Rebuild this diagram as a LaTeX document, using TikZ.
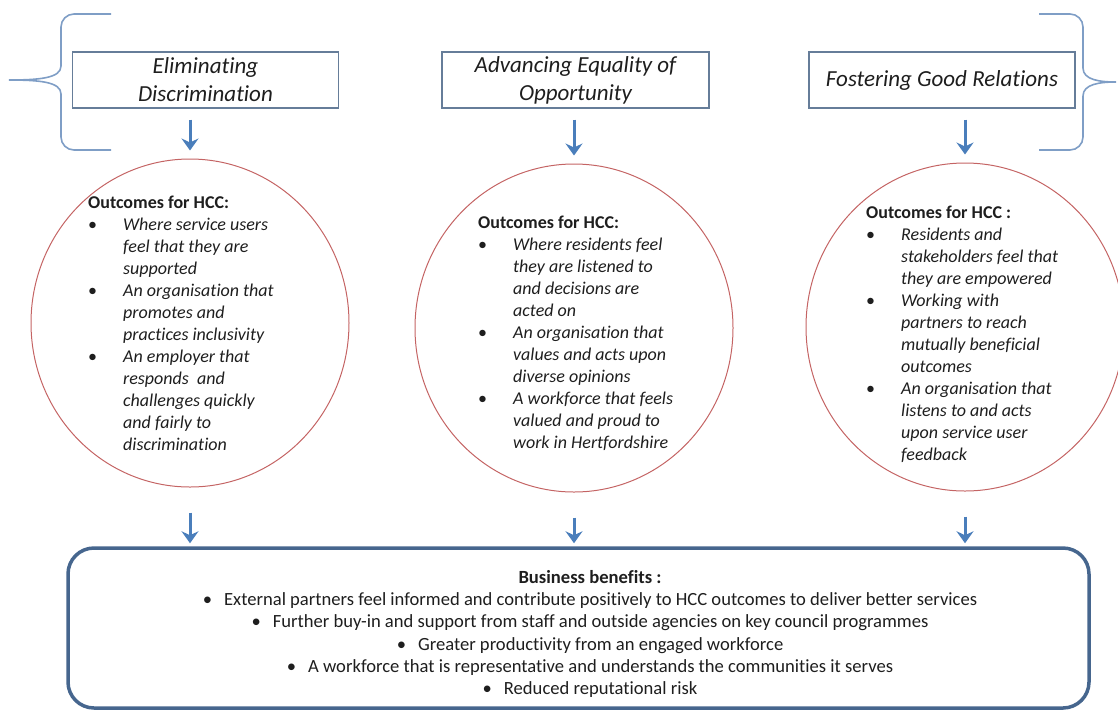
\documentclass[tikz,border=0pt]{standalone}
\usepackage{fontspec}
\setmainfont{Carlito}[Ligatures=NoCommon,Contextuals=NoAlternate]
\usepackage{tikz}
\usepackage{xcolor}
\usetikzlibrary{shapes.geometric,arrows.meta}
\definecolor{boxedge}{HTML}{667D99}
\definecolor{braceblue}{HTML}{7F9EC6}
\definecolor{ringred}{HTML}{C46464}
\definecolor{arrowblue}{HTML}{4A7EBB}
\definecolor{benefitedge}{HTML}{46668E}
\definecolor{inktext}{HTML}{1E1E1E}
\newcommand{\outcomeitem}[1]{\par\hangindent=35pt\hangafter=1\noindent\makebox[35pt][l]{\textbullet}\textit{#1}}
\tikzset{
    title-box/.style = {draw=boxedge, line width=1.3pt, rectangle, minimum width=266pt, minimum height=56pt, inner sep=0pt, align=center, text=inktext, font=\fontsize{23}{28}\selectfont\itshape},
    outcome-ring/.style = {draw=ringred, line width=1pt, ellipse, minimum width=318pt, minimum height=328pt, inner sep=0pt},
    outcome-text/.style = {anchor=base west, inner sep=0pt, text=inktext, font=\fontsize{18}{22}\selectfont},
    benefit-box/.style = {draw=benefitedge, line width=3.5pt, rounded corners=26pt, minimum width=1021pt, minimum height=160pt},
    benefit-text/.style = {align=center, inner sep=0pt, text=inktext, font=\fontsize{18.6}{22.2}\selectfont},
    down-arrow/.style = {draw=arrowblue, line width=3pt, -{Stealth[length=12pt,width=17pt,inset=4pt]}},
    brace-line/.style = {draw=braceblue, line width=1.6pt},
}

\begin{document}
\begin{tikzpicture}[x=1pt,y=-1pt]
\useasboundingbox (0,0) rectangle (1118,713);

\draw[brace-line] (111,14) -- (74,14) to[out=180,in=90] (61,27) -- (61,66) .. controls (61,78) and (40,80) .. (9,80) .. controls (40,80) and (61,82) .. (61,94) -- (61,137) to[out=-90,in=180] (74,150) -- (111,150);
\draw[brace-line] (1039,14) -- (1070,14) to[out=0,in=90] (1083,27) -- (1083,68) .. controls (1083,80) and (1100,82) .. (1116,82) .. controls (1100,82) and (1083,84) .. (1083,96) -- (1083,137) to[out=-90,in=0] (1070,150) -- (1039,150);

\node[title-box] (elim) at (205.5,80) {Eliminating\\Discrimination};
\node[title-box, minimum width=267pt] (equal) at (575.5,80) {Advancing Equality of\\Opportunity};
\node[title-box] (relat) at (942,80) {Fostering Good Relations};

\node[outcome-ring] (outElim) at (190,323) {};
\node[outcome-ring] (outEqual) at (574,328) {};
\node[outcome-ring] (outRelat) at (965,327) {};

\node[outcome-text] (txtElim) at (88,208) {\begin{minipage}[t]{250pt}
    \textbf{Outcomes for HCC:}
    \outcomeitem{Where service users\\feel that they are\\supported}
    \outcomeitem{An organisation that\\promotes and\\practices inclusivity}
    \outcomeitem{An employer that\\responds\ \ and\\challenges quickly\\and fairly to\\discrimination}
\end{minipage}};
\node[outcome-text] (txtEqual) at (478,228) {\begin{minipage}[t]{250pt}
    \textbf{Outcomes for HCC:}
    \outcomeitem{Where residents feel\\they are listened to\\and decisions are\\acted on}
    \outcomeitem{An organisation that\\values and acts upon\\diverse opinions}
    \outcomeitem{A workforce that feels\\valued and proud to\\work in Hertfordshire}
\end{minipage}};
\node[outcome-text] (txtRelat) at (866,218) {\begin{minipage}[t]{250pt}
    \textbf{Outcomes for HCC :}
    \outcomeitem{Residents and\\stakeholders feel that\\they are empowered}
    \outcomeitem{Working with\\partners to reach\\mutually beneficial\\outcomes}
    \outcomeitem{An organisation that\\listens to and acts\\upon service user\\feedback}
\end{minipage}};

\node[benefit-box] (benefits) at (578.5,628) {};
\node[benefit-text] (benefitText) at (590,634) {\textbf{Business benefits :}\\
    \textbullet\hspace{12pt}External partners feel informed and contribute positively to HCC outcomes to deliver better services\\
    \textbullet\hspace{12pt}Further buy-in and support from staff and outside agencies on key council programmes\\
    \textbullet\hspace{12pt}Greater productivity from an engaged workforce\\
    \textbullet\hspace{12pt}A workforce that is representative and understands the communities it serves\\
    \textbullet\hspace{12pt}Reduced reputational risk};

\draw[down-arrow, shorten <=11pt, shorten >=8pt] (outElim.north |- elim.south) -- (outElim.north);
\draw[down-arrow, shorten <=11pt, shorten >=8pt] (outEqual.north |- equal.south) -- (outEqual.north);
\draw[down-arrow, shorten <=11pt, shorten >=8pt] (outRelat.north |- relat.south) -- (outRelat.north);
\draw[down-arrow, shorten <=25pt, shorten >=3pt] (outElim.south) -- (outElim.south |- benefits.north);
\draw[down-arrow, shorten <=25pt, shorten >=3pt] (outEqual.south) -- (outEqual.south |- benefits.north);
\draw[down-arrow, shorten <=25pt, shorten >=3pt] (outRelat.south) -- (outRelat.south |- benefits.north);
\end{tikzpicture}
\end{document}
